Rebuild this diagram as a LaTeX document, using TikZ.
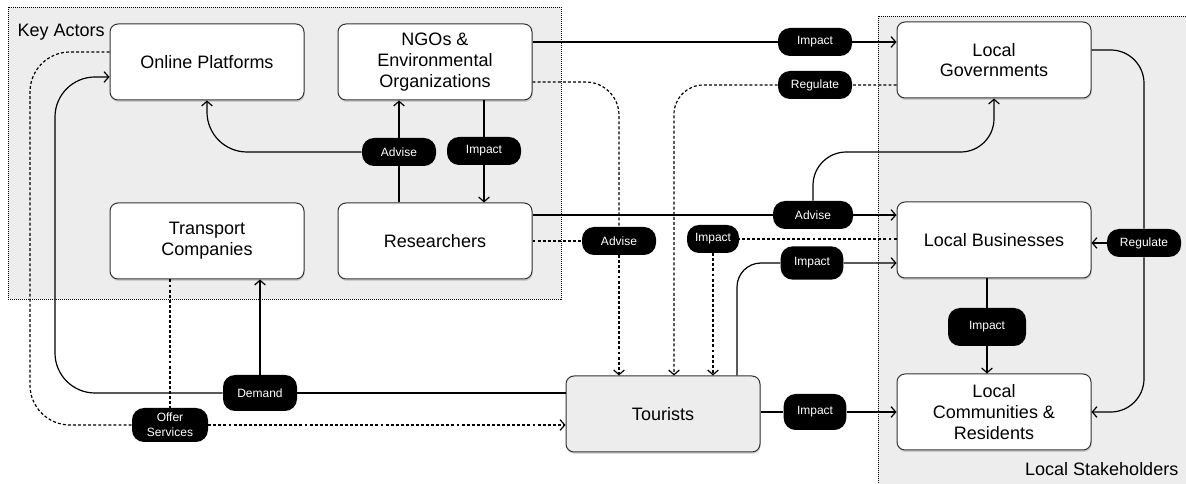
\documentclass[tikz,border=0pt]{standalone}
\usepackage{fontspec}
\setmainfont{Liberation Sans}
\usetikzlibrary{arrows.meta,shadows}

\definecolor{groupgray}{HTML}{EDEDED}
\definecolor{boxline}{HTML}{333333}

\begin{document}
\begin{tikzpicture}[x=0.75pt,y=-0.75pt,font=\fontsize{13.5}{15.5}\selectfont,
	actor/.style={draw=boxline, line width=0.75pt, fill=white, rounded corners=6pt,
		minimum width=145.5pt, minimum height=57pt, align=center, inner sep=2pt,
		drop shadow={shadow xshift=0.5pt, shadow yshift=-1.5pt, opacity=0.3}},
	pill/.style={fill=black, text=white, rounded corners=9pt, minimum width=55.5pt,
		minimum height=21pt, inner sep=1pt, align=center, font=\fontsize{9}{11.25}\selectfont},
	conn/.style={line width=0.9pt},
	link/.style={conn, -{Straight Barb[length=3.5pt,width=8pt]}},
	dots/.style={dash pattern=on 2.2pt off 1.6pt},
	group/.style={fill=groupgray, line width=0.6pt, dash pattern=on 0.75pt off 0.75pt}]

	\useasboundingbox (0,0) rectangle (1186,484);

	% Gruppi
	\draw[group] (8,7) rectangle (561,299);
	\node[anchor=west] (keylbl) at (13,32) {Key Actors};
	\draw[group] (878,16) rectangle (1200,500);
	\node[anchor=east] (stklbl) at (1183,469) {Local Stakeholders};

	% Attori
	\node[actor] (op) at (207,62) {Online Platforms};
	\node[actor] (ngo) at (435,62) {NGOs \&\\Environmental\\Organizations};
	\node[actor] (tc) at (207,241) {Transport\\Companies};
	\node[actor] (res) at (435,241) {Researchers};
	\node[actor] (lg) at (994,60) {Local\\Governments};
	\node[actor] (lb) at (994,240) {Local Businesses};
	\node[actor] (lc) at (994,412) {Local\\Communities \&\\Residents};
	\node[actor, fill=groupgray] (tour) at (663,414) {Tourists};

	% Etichette
	\node[pill] (iNgLg) at (815,42) {Impact};
	\node[pill] (rLgT) at (815,85) {Regulate};
	\node[pill] (aOP) at (399,152) {Advise};
	\node[pill] (iNR) at (484,151) {Impact};
	\node[pill] (aRT) at (619,241) {Advise};
	\node[pill, minimum width=39pt] (iLT) at (713,239) {Impact};
	\node[pill, minimum width=60pt] (aRL) at (813,215) {Advise};
	\node[pill, minimum width=47pt, minimum height=25pt] (iTL) at (812,263) {Impact};
	\node[pill] (rLC) at (1144,243) {Regulate};
	\node[pill, minimum width=58.5pt, minimum height=28.5pt] (iLBLC) at (987,327) {Impact};
	\node[pill, minimum height=27pt] (dem) at (260,393) {Demand};
	\node[pill, minimum width=57pt, minimum height=25.5pt] (off) at (170,425) {Offer\\Services};
	\node[pill, minimum width=47pt, minimum height=27pt] (iTLC) at (815,412) {Impact};

	\coordinate (govbend) at (813,152);
	\coordinate (demcorner) at (55,77);
	\coordinate (offcorner) at (30,425);

	% Collegamenti
	\draw[link] (ngo.east |- iNgLg) -- (iNgLg) -- (lg.west |- iNgLg);
	\draw[link, dots, rounded corners=22pt] (lg.west |- rLgT) -- (rLgT) -| ([xshift=8.25pt]tour.north);
	\draw[conn, dots, rounded corners=25pt] ([yshift=-15pt]ngo.east) -| (aRT);
	\draw[link, dots] (aRT) -- (aRT |- tour.north);
	\draw[conn, dots] (res.east |- aRT) -- (aRT);
	\draw[link, dots] (lb.west |- iLT) -- (iLT) -- (iLT |- tour.north);
	\draw[link, rounded corners=18pt] ([xshift=55.5pt]tour.north) |- (iTL) -- (lb.west |- iTL);
	\draw[link] (tour.east |- iTLC) -- (iTLC) -- (lc.west |- iTLC);
	\draw[link] (res.east |- aRL) -- (aRL) -- (lb.west |- aRL);
	\draw[link, rounded corners=25pt] (aRL) -- (govbend) -| (lg.south);
	\draw[conn, rounded corners=25pt] ([yshift=7.5pt]lg.east) -| (rLC);
	\draw[link, rounded corners=25pt] (rLC) |- (lc.east);
	\draw[link] (rLC) -- (lb.east |- rLC);
	\draw[link] (lb.south -| iLBLC) -- (iLBLC) -- (lc.north -| iLBLC);
	\draw[link] (res.north -| aOP) -- (aOP) -- (ngo.south -| aOP);
	\draw[link, rounded corners=30pt] (aOP) -| (op.south);
	\draw[link] (ngo.south -| iNR) -- (iNR) -- (res.north -| iNR);
	\draw[conn] (tour.west |- dem) -- (dem);
	\draw[link, rounded corners=30pt] (dem) -| (demcorner) -- ([yshift=-11.25pt]op.west);
	\draw[link] (dem) -- (dem |- tc.south);
	\draw[conn, dots] (tc.south -| off) -- (off);
	\draw[link, dots] (off) -- (tour.west |- off);
	\draw[conn, dots, rounded corners=30pt] ([yshift=7.5pt]op.west) -| (offcorner) -- (off);
\end{tikzpicture}
\end{document}
